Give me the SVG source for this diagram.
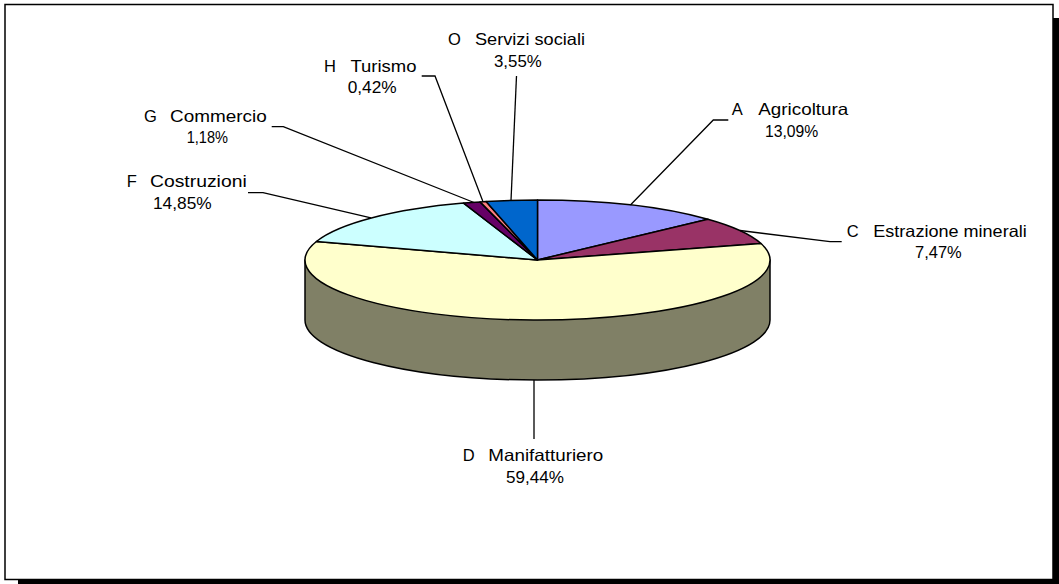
<svg xmlns="http://www.w3.org/2000/svg" width="1059" height="584" viewBox="0 0 1059 584">
<style>
.slice{stroke:#000;stroke-width:1.5;stroke-linejoin:round}
.lead{fill:none;stroke:#000;stroke-width:1.3}
text{font-family:"Liberation Sans",Arial,sans-serif;font-size:16.5px;fill:#000}
</style>
<rect x="0" y="0" width="1059" height="584" fill="#fff"/>
<rect x="18" y="18" width="1041" height="566" fill="#000"/>
<rect x="5" y="4.5" width="1048" height="575" fill="#fff" stroke="#000" stroke-width="1.5"/>
<g id="pie">
<path class="slice" fill="#808066" d="M305,260 L305,320 A232.5,60 0 0 0 770,320 L770,260 Z"/>
<path id="slice-A" class="slice" fill="#9999FF" d="M537.5,260 L537.5,200 A232.5,60 0 0 1 707.9,219.2 Z"/>
<path id="slice-C" class="slice" fill="#993366" d="M537.5,260 L707.9,219.2 A232.5,60 0 0 1 761,243.5 Z"/>
<path id="slice-D" class="slice" fill="#FFFFCC" d="M537.5,260 L761,243.5 A232.5,60 0 1 1 316.4,241.5 Z"/>
<path id="slice-F" class="slice" fill="#CCFFFF" d="M537.5,260 L316.4,241.5 A232.5,60 0 0 1 463.6,203.1 Z"/>
<path id="slice-G" class="slice" fill="#660066" d="M537.5,260 L463.6,203.1 A232.5,60 0 0 1 480.1,201.9 Z"/>
<path id="slice-H" class="slice" fill="#FF8080" d="M537.5,260 L480.1,201.9 A232.5,60 0 0 1 486.1,201.5 Z"/>
<path id="slice-O" class="slice" fill="#0066CC" d="M537.5,260 L486.1,201.5 A232.5,60 0 0 1 537.5,200 Z"/>
</g>
<g id="connectors">
<path class="lead" d="M516.5,76 L511,200.5"/>
<path class="lead" d="M421.7,76 L435,76 L483,201.7"/>
<path class="lead" d="M271.7,126.7 L283.3,126.7 L474,202.5"/>
<path class="lead" d="M248,192.7 L263,192.7 L371,217.8"/>
<path class="lead" d="M728.3,120 L713.3,120 L630.4,205"/>
<path class="lead" d="M841.7,241.7 L830,241.7 L740,230.5"/>
<path class="lead" d="M534,380 L534,439"/>
</g>
<g id="label-O">
<text x="448" y="45">O</text><text x="475" y="45" textLength="110" lengthAdjust="spacingAndGlyphs">Servizi sociali</text>
<text x="494" y="67.3" textLength="47.7" lengthAdjust="spacingAndGlyphs">3,55%</text>
</g>
<g id="label-H">
<text x="324" y="72">H</text><text x="350.5" y="72" textLength="66" lengthAdjust="spacingAndGlyphs">Turismo</text>
<text x="347.7" y="93.3" textLength="49" lengthAdjust="spacingAndGlyphs">0,42%</text>
</g>
<g id="label-G">
<text x="144" y="121.7">G</text><text x="170" y="121.7" textLength="96.7" lengthAdjust="spacingAndGlyphs">Commercio</text>
<text x="186.7" y="143.3" textLength="41.3" lengthAdjust="spacingAndGlyphs">1,18%</text>
</g>
<g id="label-F">
<text x="126.7" y="187.3">F</text><text x="150" y="187.3" textLength="96.7" lengthAdjust="spacingAndGlyphs">Costruzioni</text>
<text x="153" y="209" textLength="58.7" lengthAdjust="spacingAndGlyphs">14,85%</text>
</g>
<g id="label-A">
<text x="731.7" y="115">A</text><text x="758.3" y="115" textLength="90" lengthAdjust="spacingAndGlyphs">Agricoltura</text>
<text x="765" y="137.3" textLength="53.3" lengthAdjust="spacingAndGlyphs">13,09%</text>
</g>
<g id="label-C">
<text x="846.7" y="236.7">C</text><text x="873.3" y="236.7" textLength="153.4" lengthAdjust="spacingAndGlyphs">Estrazione minerali</text>
<text x="915" y="257.7" textLength="46.7" lengthAdjust="spacingAndGlyphs">7,47%</text>
</g>
<g id="label-D">
<text x="462.7" y="460.7">D</text><text x="488.3" y="460.7" textLength="115" lengthAdjust="spacingAndGlyphs">Manifatturiero</text>
<text x="506" y="482.7" textLength="58" lengthAdjust="spacingAndGlyphs">59,44%</text>
</g>
</svg>
